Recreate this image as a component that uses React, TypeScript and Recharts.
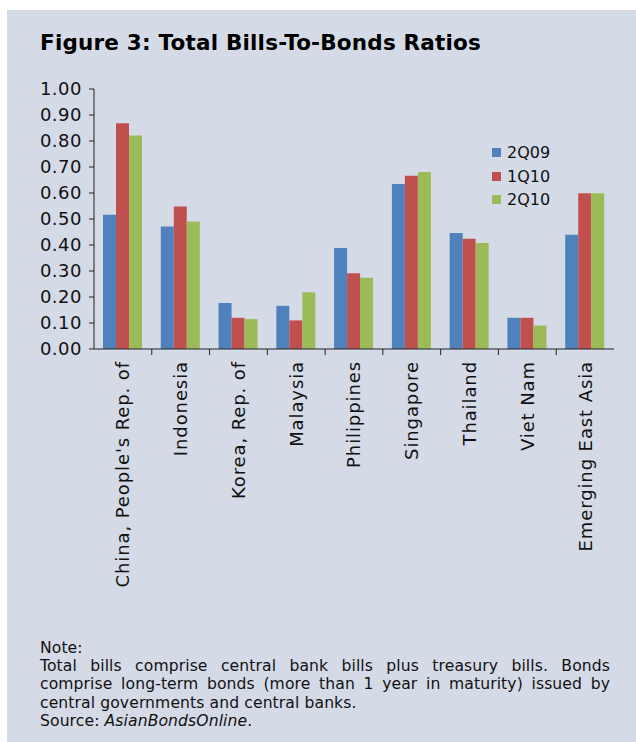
import React from 'react';
import {
  Bar,
  BarChart,
  Legend,
  XAxis,
  YAxis,
} from 'recharts';

const CATEGORIES = [
  'China, People\'s Rep. of',
  'Indonesia',
  'Korea, Rep. of',
  'Malaysia',
  'Philippines',
  'Singapore',
  'Thailand',
  'Viet Nam',
  'Emerging East Asia',
];

const Q2_09 = [0.516, 0.471, 0.177, 0.166, 0.388, 0.635, 0.446, 0.12, 0.439];
const Q1_10 = [0.868, 0.548, 0.12, 0.11, 0.291, 0.666, 0.424, 0.12, 0.599];
const Q2_10 = [0.821, 0.49, 0.115, 0.218, 0.274, 0.681, 0.408, 0.09, 0.599];

const Y_TICKS = [0, 0.1, 0.2, 0.3, 0.4, 0.5, 0.6, 0.7, 0.8, 0.9, 1.0];

const SERIES = [
  { key: 'q209', name: '2Q09', color: '#4F81BD' },
  { key: 'q110', name: '1Q10', color: '#C0504D' },
  { key: 'q210', name: '2Q10', color: '#9BBB59' },
];

const BG = '#D5DAE7';
const FONT = '"DejaVu Sans", Verdana, sans-serif';

const data = CATEGORIES.map((name, i) => ({
  name,
  q209: Q2_09[i],
  q110: Q1_10[i],
  q210: Q2_10[i],
}));

const CategoryTick = (props: any) => {
  const { x, y, payload, index } = props;
  const half = payload && payload.offset ? payload.offset : 520 / 9 / 2;
  const axisY = y - 12;
  return (
    <g>
      {index > 0 && (
        <line x1={x - half} x2={x - half} y1={axisY} y2={axisY + 6} stroke="#222" />
      )}
      <text
        x={x}
        y={y}
        transform={`rotate(-90, ${x}, ${y})`}
        textAnchor="end"
        dy="0.36em"
        fontSize={18}
        letterSpacing={0.9}
        fontFamily={FONT}
        fill="#111"
      >
        {payload.value}
      </text>
    </g>
  );
};

const renderLegend = () => (
  <div style={{ fontFamily: FONT, fontSize: 16, color: '#111' }}>
    {SERIES.map((s) => (
      <div
        key={s.key}
        style={{ display: 'flex', alignItems: 'center', height: 23.5 }}
      >
        <span
          style={{
            display: 'inline-block',
            width: 9,
            height: 9,
            background: s.color,
            marginRight: 6,
          }}
        />
        {s.name}
      </div>
    ))}
  </div>
);

export default function App() {
  return (
    <div
      style={{
        position: 'absolute',
        top: 0,
        left: 0,
        width: 636,
        height: 742,
        background: '#fff',
        overflow: 'hidden',
      }}
    >
      <div
        style={{
          position: 'absolute',
          top: 10,
          left: 7,
          width: 629,
          height: 732,
          background: BG,
        }}
      />
      <div
        style={{
          position: 'absolute',
          top: 31,
          left: 40,
          fontFamily: FONT,
          fontWeight: 'bold',
          fontSize: 21.5,
          letterSpacing: 0.2,
          lineHeight: '24px',
          color: '#000',
          whiteSpace: 'nowrap',
        }}
      >
        Figure 3: Total Bills-To-Bonds Ratios
      </div>
      <div style={{ position: 'absolute', top: 0, left: 0 }}>
        <BarChart
          width={636}
          height={610}
          data={data}
          margin={{ top: 89, right: 22, left: 34, bottom: 10 }}
          barGap={0}
          barSize={13}
        >
          <XAxis
            xAxisId="top"
            dataKey="name"
            orientation="top"
            height={0}
            tick={false}
            tickLine={false}
            axisLine={{ stroke: '#666' }}
          />
          <YAxis
            yAxisId="right"
            orientation="right"
            width={0}
            domain={[0, 1]}
            tick={false}
            tickLine={false}
            axisLine={{ stroke: '#666' }}
          />
          <XAxis
            dataKey="name"
            interval={0}
            height={251}
            tickLine={false}
            tickSize={6}
            tickMargin={6}
            axisLine={{ stroke: '#222' }}
            tick={<CategoryTick />}
          />
          <YAxis
            width={60}
            domain={[0, 1]}
            ticks={Y_TICKS}
            interval={0}
            tickSize={5}
            tickMargin={7}
            tickFormatter={(v: number) => v.toFixed(2)}
            axisLine={{ stroke: '#222' }}
            tickLine={{ stroke: '#222' }}
            tick={{ fontSize: 18, fontFamily: FONT, fill: '#111', letterSpacing: 0.5 }}
          />
          <Legend
            layout="vertical"
            align="center"
            verticalAlign="middle"
            wrapperStyle={{ top: 141, left: 492, width: 80 }}
            content={renderLegend}
          />
          {SERIES.map((s) => (
            <Bar
              key={s.key}
              dataKey={s.key}
              name={s.name}
              fill={s.color}
              isAnimationActive={false}
            />
          ))}
        </BarChart>
      </div>
      <div
        style={{
          position: 'absolute',
          top: 639,
          left: 40,
          width: 570,
          fontFamily: FONT,
          fontSize: 15.6,
          letterSpacing: 0.1,
          lineHeight: '18.2px',
          color: '#111',
          textAlign: 'justify',
        }}
      >
        <div>Note:</div>
        <div>
          Total bills comprise central bank bills plus treasury bills. Bonds
          comprise long-term bonds (more than 1 year in maturity) issued by
          central governments and central banks.
        </div>
        <div>
          Source: <i>AsianBondsOnline</i>.
        </div>
      </div>
    </div>
  );
}
